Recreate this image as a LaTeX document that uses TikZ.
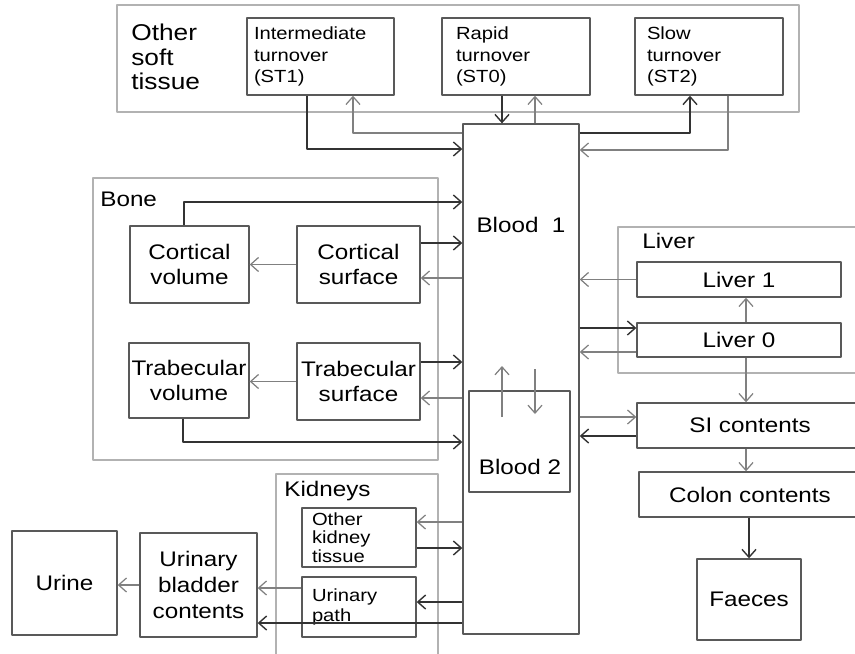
\documentclass[tikz,border=0pt]{standalone}
\usepackage{fontspec}
\setmainfont[FakeStretch=1.15]{Liberation Sans}
\usetikzlibrary{arrows.meta}

\begin{document}
\begin{tikzpicture}[x=0.02cm, y=-0.02cm, >={Straight Barb[length=4.5pt,width=8pt]},
    line join=round,
    grp/.style={draw=black!30, line width=0.7pt},
    box/.style={draw=black!65, line width=0.8pt, inner sep=0pt, align=center,
      font=\fontsize{12}{14.5}\selectfont},
    sbox/.style={box, align=left, font=\fontsize{10}{12}\selectfont},
    txt/.style={inner sep=0pt, font=\fontsize{12}{14}\selectfont},
    arr/.style={->, draw=black!50, line width=0.7pt},
    darr/.style={->, draw=black!80, line width=0.8pt}]
  \useasboundingbox (0,0) rectangle (855,653);
  \clip (0,0) rectangle (855,653);

  % groups
  \draw[grp] (117,5) rectangle (799,112);
  \draw[grp] (93,178) rectangle (438,460);
  \draw[grp] (618,227) rectangle (880,373);
  \draw[grp] (276,474) rectangle (438,670);
  \node[txt, anchor=west, align=left, font=\fontsize{13}{14}\selectfont] (softlbl) at (131,57) {Other\\soft\\tissue};
  \node[txt, anchor=west] (bonelbl) at (100,199) {Bone};
  \node[txt, anchor=west] (liverlbl) at (642,241) {Liver};
  \node[txt, anchor=west] (kidlbl) at (284,491) {Kidneys};

  % soft tissue
  \node[sbox, minimum width=2.94cm, minimum height=1.54cm, inner xsep=0.14cm, text width=2.66cm] (st1) at (320.5,56.5) {Intermediate\\turnover\\(ST1)};
  \node[sbox, minimum width=2.96cm, minimum height=1.54cm, inner xsep=0.28cm, text width=2.40cm] (st0) at (516,56.5) {Rapid\\turnover\\(ST0)};
  \node[sbox, minimum width=2.96cm, minimum height=1.54cm, inner xsep=0.24cm, text width=2.48cm] (st2) at (709,56.5) {Slow\\turnover\\(ST2)};

  % blood
  \node[box, minimum width=2.32cm, minimum height=10.2cm] (blood1) at (521,379) {};
  \node[txt] (b1txt) at (521,225) {Blood\ \ 1};
  \node[box, minimum width=2.02cm, minimum height=2.02cm] (blood2) at (519.5,441.5) {};
  \node[txt] (b2txt) at (520,467) {Blood 2};

  % bone
  \node[box, minimum width=2.38cm, minimum height=1.54cm] (cortvol) at (189.5,264.5) {Cortical\\volume};
  \node[box, minimum width=2.46cm, minimum height=1.54cm] (cortsurf) at (358.5,264.5) {Cortical\\surface};
  \node[box, minimum width=2.40cm, minimum height=1.50cm] (trabvol) at (189,380.5) {Trabecular\\volume};
  \node[box, minimum width=2.46cm, minimum height=1.54cm] (trabsurf) at (358.5,381.5) {Trabecular\\surface};

  % liver and gut
  \node[box, minimum width=4.08cm, minimum height=0.70cm] (liver1) at (739,279.5) {Liver 1};
  \node[box, minimum width=4.08cm, minimum height=0.68cm] (liver0) at (739,340) {Liver 0};
  \node[box, minimum width=4.52cm, minimum height=0.90cm] (si) at (750,425.5) {SI contents};
  \node[box, minimum width=4.44cm, minimum height=0.90cm] (colon) at (750,494.5) {Colon contents};
  \node[box, minimum width=2.08cm, minimum height=1.62cm] (faeces) at (749,599.5) {Faeces};

  % kidneys and urine
  \node[sbox, minimum width=2.28cm, minimum height=1.18cm, inner xsep=0.2cm, text width=1.88cm, font=\fontsize{10}{10.5}\selectfont] (okt) at (359,537.5) {Other\\kidney\\tissue};
  \node[sbox, minimum width=2.28cm, minimum height=1.20cm, inner xsep=0.2cm, text width=1.88cm, font=\fontsize{10}{11}\selectfont] (upath) at (359,607) {Urinary\\path\\[6pt]};
  \node[box, minimum width=2.34cm, minimum height=2.08cm, font=\fontsize{12}{15}\selectfont] (bladder) at (198.5,585) {Urinary\\bladder\\contents};
  \node[box, minimum width=2.10cm, minimum height=2.08cm] (urine) at (64.5,583) {Urine};

  % routing points
  \coordinate (k1) at (307,149);
  \coordinate (k2) at (353,133);
  \coordinate (k3) at (502,0);
  \coordinate (k4) at (535,0);
  \coordinate (k5) at (690,133);
  \coordinate (k6) at (728,150);
  \coordinate (k7) at (184,202);
  \coordinate (k8) at (0,243);
  \coordinate (k9) at (0,278);
  \coordinate (k11) at (0,362);
  \coordinate (k12) at (0,398);
  \coordinate (k14) at (183,442);
  \coordinate (k16) at (0,328);
  \coordinate (k17) at (0,352);
  \coordinate (k18) at (746,0);
  \coordinate (k20) at (0,417);
  \coordinate (k21) at (0,436);
  \coordinate (k24) at (0,522);
  \coordinate (k25) at (0,548);
  \coordinate (k26) at (0,602);
  \coordinate (k27) at (0,623);
  \coordinate (k28) at (0,588);
  \coordinate (b2a) at (502,417);
  \coordinate (b2b) at (502,366);
  \coordinate (b2c) at (535,369);
  \coordinate (b2d) at (535,414);

  % soft tissue exchange
  \draw[darr] (st1.south -| k1) |- (blood1.west |- k1);
  \draw[arr] (blood1.west |- k2) -| (st1.south -| k2);
  \draw[darr] (st0.south -| k3) -- (blood1.north -| k3);
  \draw[arr] (blood1.north -| k4) -- (st0.south -| k4);
  \draw[darr] (blood1.east |- k5) -| (st2.south -| k5);
  \draw[arr] (st2.south -| k6) |- (blood1.east |- k6);

  % bone exchange
  \draw[darr] (cortvol.north -| k7) |- (blood1.west |- k7);
  \draw[darr] (cortsurf.east |- k8) -- (blood1.west |- k8);
  \draw[arr] (blood1.west |- k9) -- (cortsurf.east |- k9);
  \draw[arr] (cortsurf.west) -- (cortvol.east);
  \draw[darr] (trabsurf.east |- k11) -- (blood1.west |- k11);
  \draw[arr] (blood1.west |- k12) -- (trabsurf.east |- k12);
  \draw[arr] (trabsurf.west) -- (trabvol.east |- trabsurf.west);
  \draw[darr] (trabvol.south -| k14) |- (blood1.west |- k14);

  % blood 2
  \draw[arr] (b2a) -- (b2b);
  \draw[arr] (b2c) -- (b2d);

  % liver and gut
  \draw[arr] (liver1.west) -- (blood1.east |- liver1.west);
  \draw[darr] (blood1.east |- k16) -- (liver0.west |- k16);
  \draw[arr] (liver0.west |- k17) -- (blood1.east |- k17);
  \draw[arr] (liver0.north -| k18) -- (liver1.south -| k18);
  \draw[arr] (liver0.south -| k18) -- (si.north -| k18);
  \draw[arr] (blood1.east |- k20) -- (si.west |- k20);
  \draw[darr] (si.west |- k21) -- (blood1.east |- k21);
  \draw[arr] (si.south -| k18) -- (colon.north -| k18);
  \draw[darr] (colon.south -| faeces.north) -- (faeces.north);

  % kidneys
  \draw[arr] (blood1.west |- k24) -- (okt.east |- k24);
  \draw[darr] (okt.east |- k25) -- (blood1.west |- k25);
  \draw[darr] (blood1.west |- k26) -- (upath.east |- k26);
  \draw[darr] (blood1.west |- k27) -- (bladder.east |- k27);
  \draw[arr] (upath.west |- k28) -- (bladder.east |- k28);
  \draw[arr] (bladder.west) -- (urine.east |- bladder.west);
\end{tikzpicture}
\end{document}
